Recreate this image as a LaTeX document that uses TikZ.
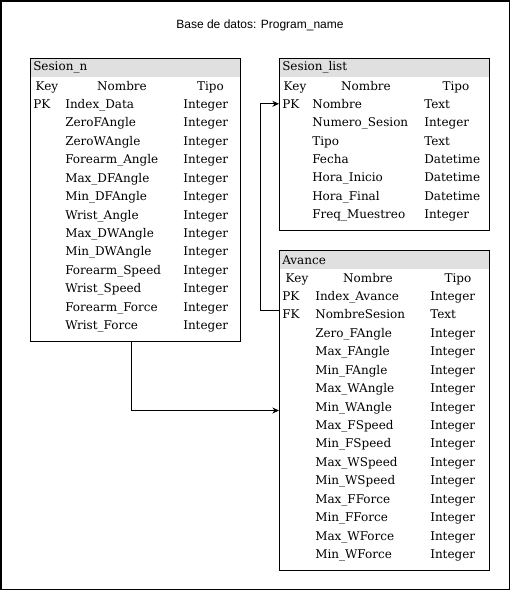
\documentclass[tikz,border=0pt]{standalone}
\usepackage{fontspec}
\setmainfont{DejaVu Serif}
\newfontfamily\titlefont{Liberation Sans}
\usetikzlibrary{arrows.meta}
\definecolor{headgray}{RGB}{224,224,224}

\begin{document}
\begin{tikzpicture}
[x=0.75pt,y=-0.75pt,
  framedecorate/.style={draw,line width=1.1pt},
  tabledecorate/.style={shape=rectangle,draw,line width=0.75pt,anchor=north west,minimum width=157.5pt,inner sep=0pt},
  headdecorate/.style={shape=rectangle,fill=headgray,anchor=north west,text width=153pt,inner xsep=2.25pt,inner ysep=0pt,minimum height=14.25pt,align=left,font=\fontsize{9}{11}\selectfont},
  textdecorate/.style={anchor=base west,inner xsep=2.25pt,inner ysep=0pt,text height=7pt,text depth=0pt,font=\fontsize{9}{11}\selectfont},
  colheaddecorate/.style={anchor=base,inner sep=0pt,font=\fontsize{9}{11}\selectfont},
  linedecorate/.style={-{Stealth[length=5pt,width=4.5pt]},line width=0.75pt}]
\useasboundingbox (0,0) rectangle (511,591);
\draw[framedecorate] (1,1) rectangle (509.5,589.5);
%% title
\node (title) at (260,25) [font=\titlefont\fontsize{9}{11}\selectfont] {Base de datos: Program\_name};
%% table Sesion_n
\node (sesnhead) at (30,58) [headdecorate] {Sesion\_n};
\node (sesn) at (30,58) [tabledecorate,minimum height=212.25pt] {};
\node (sesnkey) at (47,90.5) [colheaddecorate] {Key};
\node (sesnname) at (122,90.5) [colheaddecorate] {Nombre};
\node (sesntype) at (210.5,90.5) [colheaddecorate] {Tipo};
\node (snpk) at (30,108.5) [textdecorate] {PK};
\foreach \name/\kind [count=\i from 0] in {Index\_Data/Integer,ZeroFAngle/Integer,ZeroWAngle/Integer,
  Forearm\_Angle/Integer,Max\_DFAngle/Integer,Min\_DFAngle/Integer,Wrist\_Angle/Integer,
  Max\_DWAngle/Integer,Min\_DWAngle/Integer,Forearm\_Speed/Integer,Wrist\_Speed/Integer,
  Forearm\_Force/Integer,Wrist\_Force/Integer}
{
  \node (snname\i) at (62,108.5+18.42*\i) [textdecorate] {\name};
  \node (sntype\i) at (180,108.5+18.42*\i) [textdecorate] {\kind};
}
%% table Sesion_list
\node (slisthead) at (279,58) [headdecorate] {Sesion\_list};
\node (slist) at (279,58) [tabledecorate,minimum height=129pt] {};
\node (slistkey) at (295,90.5) [colheaddecorate] {Key};
\node (slistname) at (366,90.5) [colheaddecorate] {Nombre};
\node (slisttype) at (456,90.5) [colheaddecorate] {Tipo};
\node (slpk) at (279,108.5) [textdecorate] {PK};
\foreach \name/\kind [count=\i from 0] in {Nombre/Text,Numero\_Sesion/Integer,Tipo/Text,
  Fecha/Datetime,Hora\_Inicio/Datetime,Hora\_Final/Datetime,Freq\_Muestreo/Integer}
{
  \node (slname\i) at (309,108.5+18.33*\i) [textdecorate] {\name};
  \node (sltype\i) at (421,108.5+18.33*\i) [textdecorate] {\kind};
}
%% table Avance
\node (avancehead) at (279,250) [headdecorate] {Avance};
\node (avance) at (279,250) [tabledecorate,minimum height=240pt] {};
\node (avancekey) at (297,282.5) [colheaddecorate] {Key};
\node (avancename) at (368,282.5) [colheaddecorate] {Nombre};
\node (avancetype) at (458,282.5) [colheaddecorate] {Tipo};
\node (avpk) at (279,300.5) [textdecorate] {PK};
\node (avfk) at (279,318.93) [textdecorate] {FK};
\foreach \name/\kind [count=\i from 0] in {Index\_Avance/Integer,NombreSesion/Text,
  Zero\_FAngle/Integer,Max\_FAngle/Integer,Min\_FAngle/Integer,Max\_WAngle/Integer,
  Min\_WAngle/Integer,Max\_FSpeed/Integer,Min\_FSpeed/Integer,Max\_WSpeed/Integer,
  Min\_WSpeed/Integer,Max\_FForce/Integer,Min\_FForce/Integer,Max\_WForce/Integer,
  Min\_WForce/Integer}
{
  \node (avname\i) at (312,300.5+18.43*\i) [textdecorate] {\name};
  \node (avtype\i) at (427,300.5+18.43*\i) [textdecorate] {\kind};
}
%% edges or lines
\draw[linedecorate] ([yshift=3pt]avfk.west) -- ++(-19,0) |- (slpk.west);
\draw[linedecorate] ([xshift=-3pt]sesn.south) |- (avance.west);
\end{tikzpicture}
\end{document}
